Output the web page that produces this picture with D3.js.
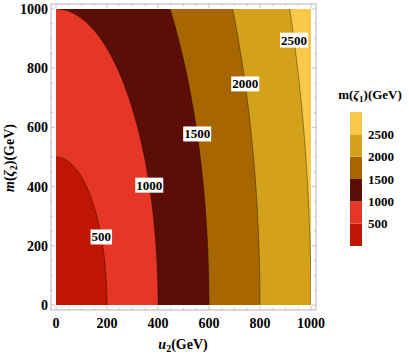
<!DOCTYPE html>
<html>
<head>
<meta charset="utf-8">
<script src="https://cdn.jsdelivr.net/npm/d3@7"></script>
<style>
  body { margin: 0; background: #fff; }
  text { font-family: "Liberation Serif", "DejaVu Serif", serif; font-weight: bold; }
</style>
</head>
<body>
<div id="chart"></div>
<script>
// contour levels of m(zeta1) and where each contour meets the axes
var levels = [500, 1000, 1500, 2000, 2500];
var u2Intercept = [200, 400, 600, 800, 1000];   // u2 where contour hits m(zeta2)=0
var mIntercept = [500, 1000, 1500, 2000, 2500]; // m(zeta2) where contour hits u2=0
// m(zeta2) height of each contour label
var labelM = [230, 405, 578, 747, 895];
// band colours, lowest band first
var bandColors = ["#bf1505", "#e63625", "#5c0e06", "#a86600", "#d4a11a", "#f9c84a"];
var xTicks = [0, 200, 400, 600, 800, 1000];
var yTicks = [0, 200, 400, 600, 800, 1000];

var W = 409, H = 354;
var svg = d3.select("#chart").append("svg").attr("width", W).attr("height", H);

// plot area
var x = d3.scaleLinear().domain([0, 1000]).range([56, 311]);
var y = d3.scaleLinear().domain([0, 1000]).range([305, 9]);

svg.append("defs").append("clipPath").attr("id", "clip")
    .append("rect")
    .attr("x", x(0)).attr("y", y(1000))
    .attr("width", x(1000) - x(0)).attr("height", y(0) - y(1000));

var plot = svg.append("g").attr("clip-path", "url(#clip)");

// top band fills the whole area
plot.append("rect")
    .attr("x", x(0)).attr("y", y(1000))
    .attr("width", x(1000) - x(0)).attr("height", y(0) - y(1000))
    .attr("fill", bandColors[5]);

function arcPoints(i) {
    var pts = [];
    for (var k = 0; k <= 120; k++) {
        var t = (Math.PI / 2) * k / 120;
        pts.push([x(u2Intercept[i] * Math.cos(t)), y(mIntercept[i] * Math.sin(t))]);
    }
    return pts;
}

var line = d3.line();
// largest ellipse first so the smaller ones sit on top
for (var i = levels.length - 1; i >= 0; i--) {
    var pts = arcPoints(i);
    plot.append("path")
        .attr("d", line([[x(0), y(0)]].concat(pts)) + "Z")
        .attr("fill", bandColors[i]);
}
for (var i = 0; i < levels.length; i++) {
    plot.append("path")
        .attr("d", line(arcPoints(i)))
        .attr("fill", "none")
        .attr("stroke", "rgba(0,0,0,0.45)")
        .attr("stroke-width", 0.8);
}

// contour labels
levels.forEach(function (lv, i) {
    var m = labelM[i];
    var u = u2Intercept[i] * Math.sqrt(Math.max(0, 1 - (m / mIntercept[i]) * (m / mIntercept[i])));
    var g = svg.append("g").attr("transform", "translate(" + x(u) + "," + y(m) + ")");
    var t = g.append("text")
        .attr("text-anchor", "middle")
        .attr("dy", "0.35em")
        .style("font-size", "13px")
        .text(lv);
    var bb = t.node().getBBox();
    g.insert("rect", "text")
        .attr("x", bb.x - 1).attr("y", bb.y)
        .attr("width", bb.width + 2).attr("height", bb.height)
        .attr("fill", "#fff");
});

// frame
var fx0 = 51, fx1 = 316, fy0 = 4, fy1 = 310;
svg.append("rect")
    .attr("x", fx0).attr("y", fy0)
    .attr("width", fx1 - fx0).attr("height", fy1 - fy0)
    .attr("fill", "none")
    .attr("stroke", "#b5b5b5")
    .attr("stroke-width", 1);

// ticks on the frame
var minor = d3.range(0, 1001, 50);
var tickG = svg.append("g").attr("stroke", "#b5b5b5").attr("stroke-width", 0.8);
minor.forEach(function (v) {
    var len = v % 200 === 0 ? 4 : 2;
    tickG.append("line").attr("x1", x(v)).attr("x2", x(v)).attr("y1", fy1).attr("y2", fy1 - len);
    tickG.append("line").attr("x1", x(v)).attr("x2", x(v)).attr("y1", fy0).attr("y2", fy0 + len);
    tickG.append("line").attr("y1", y(v)).attr("y2", y(v)).attr("x1", fx0).attr("x2", fx0 + len);
    tickG.append("line").attr("y1", y(v)).attr("y2", y(v)).attr("x1", fx1).attr("x2", fx1 - len);
});

// tick labels
svg.selectAll(".xt").data(xTicks).enter().append("text")
    .attr("x", function (d) { return x(d); })
    .attr("y", 328)
    .attr("text-anchor", "middle")
    .style("font-size", "14px")
    .text(function (d) { return d; });
svg.selectAll(".yt").data(yTicks).enter().append("text")
    .attr("x", 48)
    .attr("y", function (d) { return y(d); })
    .attr("dy", "0.35em")
    .attr("text-anchor", "end")
    .style("font-size", "14px")
    .text(function (d) { return d; });

// axis titles
var xt = svg.append("text").attr("x", 183).attr("y", 349).attr("text-anchor", "middle").style("font-size", "14px");
xt.append("tspan").style("font-style", "italic").text("u");
xt.append("tspan").attr("dy", 3).style("font-size", "10px").text("2");
xt.append("tspan").attr("dy", -3).text("(GeV)");

var yt = svg.append("text")
    .attr("transform", "translate(14,158) rotate(-90)")
    .attr("text-anchor", "middle")
    .style("font-size", "14px");
yt.append("tspan").style("font-style", "italic").text("m");
yt.append("tspan").text("(");
yt.append("tspan").style("font-style", "italic").text("ζ");
yt.append("tspan").attr("dy", 3).style("font-size", "10px").text("2");
yt.append("tspan").attr("dy", -3).text(")(GeV)");

// legend
var lt = svg.append("text").attr("x", 370).attr("y", 99).attr("text-anchor", "middle").style("font-size", "13px");
lt.append("tspan").text("m(");
lt.append("tspan").style("font-style", "italic").text("ζ");
lt.append("tspan").attr("dy", 3).style("font-size", "9px").text("1");
lt.append("tspan").attr("dy", -3).text(")(GeV)");

var legendVals = [0].concat(levels).concat([3000]);
var ly = d3.scaleLinear().domain([0, 3000]).range([246, 112]);
for (var i = 0; i < bandColors.length; i++) {
    svg.append("rect")
        .attr("x", 350).attr("width", 12)
        .attr("y", ly(legendVals[i + 1]))
        .attr("height", ly(legendVals[i]) - ly(legendVals[i + 1]))
        .attr("fill", bandColors[i]);
}
svg.selectAll(".lg").data(levels).enter().append("text")
    .attr("x", 368)
    .attr("y", function (d) { return ly(d); })
    .attr("dy", "0.35em")
    .style("font-size", "13px")
    .text(function (d) { return d; });
</script>
</body>
</html>
